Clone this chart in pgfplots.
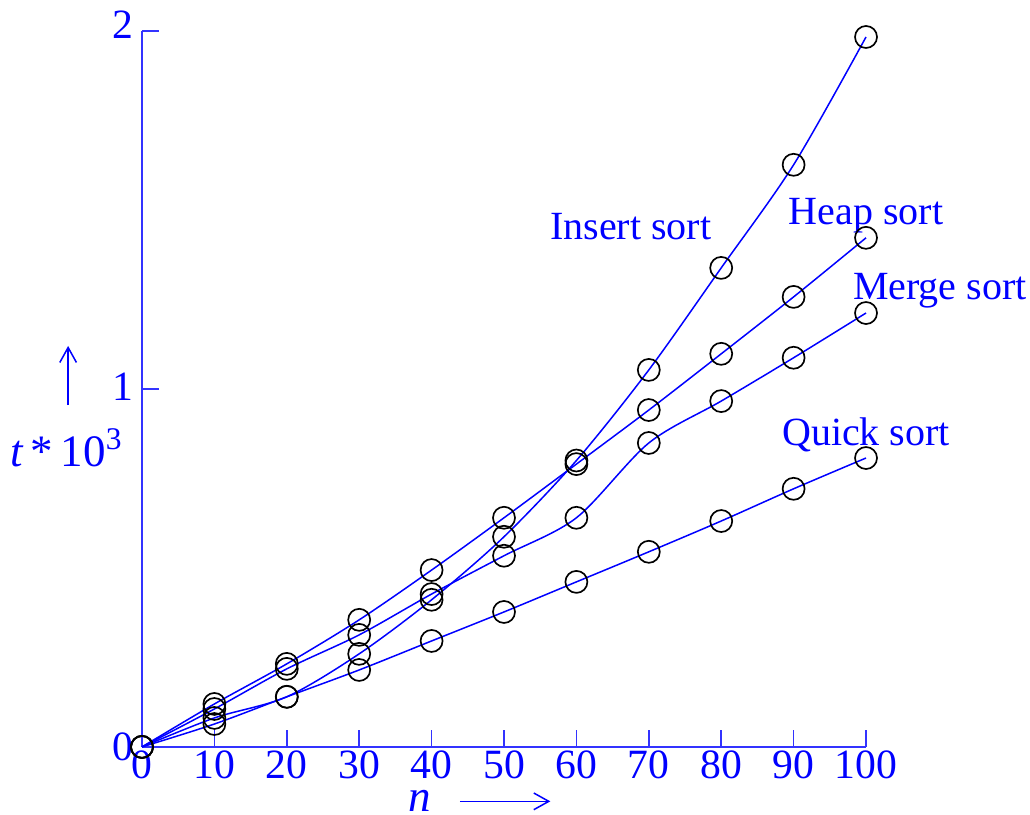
\documentclass[border=0pt]{standalone}
\usepackage{fontspec}
\setmainfont{Liberation Serif}
\usepackage{pgfplots}
\usetikzlibrary{arrows.meta}
\pgfplotsset{compat=1.18}
\begin{document}
\begin{tikzpicture}
\begin{axis}[
  scale only axis,
  width=217.2pt, height=214.8pt,
  xmin=0, xmax=100, ymin=0, ymax=2,
  axis lines=left,
  axis line style={-, blue!80, line width=0.5pt},
  xtick={0,10,...,100},
  ytick={0,1,2},
  yticklabels={0,{\raisebox{1.5pt}{1}},{\raisebox{3.6pt}{2}}},
  tick style={blue!80, line width=0.5pt},
  major tick length=5pt,
  tick align=inside,
  /pgf/number format/assume math mode=true,
  tick label style={font=\fontsize{12.5}{14}\selectfont, text=blue},
  xticklabel style={yshift=2.5pt},
  yticklabel style={xshift=1pt},
  clip=false,
]
\path (axis cs:-19.61,-0.19) rectangle (axis cs:122.65,2.084);

% Insert sort
\addplot[blue, line width=0.45pt, smooth, mark=o, mark size=3.3pt, mark options={black, line width=0.5pt}] coordinates {
(0,0) (10,0.081) (20,0.14) (30,0.26) (40,0.411) (50,0.587) (60,0.80) (70,1.053) (80,1.338) (90,1.626) (100,1.983)};
% Heap sort
\addplot[blue, line width=0.45pt, smooth, mark=o, mark size=3.3pt, mark options={black, line width=0.5pt}] coordinates {
(0,0) (10,0.120) (20,0.232) (30,0.355) (40,0.494) (50,0.640) (60,0.79) (70,0.941) (80,1.098) (90,1.257) (100,1.422)};
% Merge sort
\addplot[blue, line width=0.45pt, smooth, mark=o, mark size=3.3pt, mark options={black, line width=0.5pt}] coordinates {
(0,0) (10,0.106) (20,0.218) (30,0.313) (40,0.427) (50,0.534) (60,0.640) (70,0.849) (80,0.966) (90,1.087) (100,1.212)};
% Quick sort
\addplot[blue, line width=0.45pt, smooth, mark=o, mark size=3.3pt, mark options={black, line width=0.5pt}] coordinates {
(0,0) (10,0.064) (20,0.14) (30,0.215) (40,0.296) (50,0.377) (60,0.461) (70,0.545) (80,0.631) (90,0.721) (100,0.807)};

\node[inner sep=0pt, text=blue, font=\fontsize{12}{14}\selectfont] at (axis cs:67.5,1.452) {Insert sort};
\node[inner sep=0pt, text=blue, font=\fontsize{12}{14}\selectfont] at (axis cs:100,1.483) {Heap sort};
\node[inner sep=0pt, text=blue, font=\fontsize{12}{14}\selectfont] at (axis cs:110.2,1.274) {Merge sort};
\node[inner sep=0pt, text=blue, font=\fontsize{12}{14}\selectfont] at (axis cs:100,0.872) {Quick sort};

\node[inner sep=0pt, text=blue, font=\fontsize{13.5}{15}\selectfont] at (axis cs:-10.4,0.835) {\textit{t}\,*\,10\textsuperscript{3}};
\draw[-{Straight Barb[length=4.5pt,width=5pt]}, blue, line width=0.45pt] (axis cs:-10.2,0.955) -- (axis cs:-10.2,1.12);
\node[inner sep=0pt, text=blue, font=\fontsize{13.5}{15}\selectfont] at (axis cs:38.4,-0.151) {\textit{n}};
\draw[-{Straight Barb[length=4.5pt,width=5pt]}, blue, line width=0.45pt] (axis cs:43.9,-0.152) -- (axis cs:56.4,-0.152);
\end{axis}
\end{tikzpicture}
\end{document}
